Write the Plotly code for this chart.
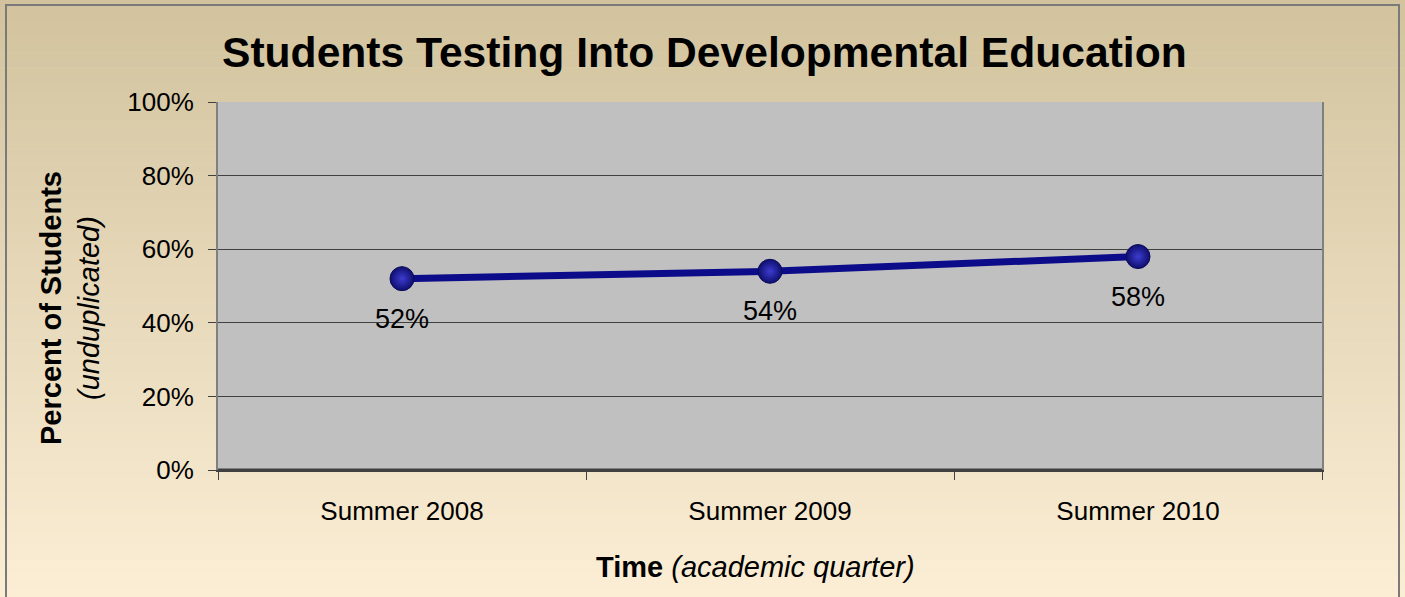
import plotly.graph_objects as go

categories = ["Summer 2008", "Summer 2009", "Summer 2010"]
values = [52, 54, 58]
labels = ["52%", "54%", "58%"]
y_ticks = [0, 20, 40, 60, 80, 100]
y_tick_text = ["0%", "20%", "40%", "60%", "80%", "100%"]

W, H = 1405, 597
L, R, T, B = 218, 1322, 102, 470
FONT = "Liberation Sans, Arial"

fig = go.Figure()
fig.add_trace(go.Scatter(
    x=categories, y=values, mode="lines+markers",
    line=dict(color="#0c0c8a", width=7),
    marker=dict(size=24, color="#0e0e6e",
                gradient=dict(type="radial", color="#3c3cd0"),
                line=dict(color="#0a0a5a", width=1)),
    hoverinfo="skip", showlegend=False,
))

# background gradient bands
shapes = []
top_c = (210, 195, 158)
bot_c = (251, 238, 213)
n = 80
for i in range(n):
    t = i / (n - 1)
    c = tuple(int(round(top_c[k] + (bot_c[k] - top_c[k]) * t)) for k in range(3))
    y0 = 1 - i / n
    y1 = 1 - (i + 1) / n
    shapes.append(dict(type="rect", xref="paper", yref="paper", x0=0, x1=1,
                       y0=y1 - 0.001, y1=y0, fillcolor="rgb(%d,%d,%d)" % c,
                       line=dict(width=0), layer="below"))
# plot area fill
shapes.append(dict(type="rect", xref="paper", yref="paper",
                   x0=L / W, x1=R / W, y0=1 - B / H, y1=1 - T / H,
                   fillcolor="#c0c0c0", line=dict(width=0), layer="below"))
# outer border
shapes.append(dict(type="rect", xref="paper", yref="paper",
                   x0=6 / W, x1=1399 / W, y0=-0.05, y1=1 - 5 / H,
                   line=dict(color="#7a7a7a", width=2), fillcolor="rgba(0,0,0,0)", layer="above"))
# bottom axis line
shapes.append(dict(type="line", xref="paper", yref="paper", x0=L / W, x1=R / W,
                   y0=1 - B / H, y1=1 - B / H, line=dict(color="#404040", width=3)))

annotations = []
for c, v, t in zip(categories, values, labels):
    annotations.append(dict(x=c, y=v, text=t, showarrow=False, yshift=-40,
                            xanchor="center", yanchor="middle",
                            font=dict(family=FONT, size=27, color="#000")))
annotations.append(dict(
    xref="paper", yref="paper", x=70 / W, y=1 - 308 / H, textangle=-90,
    xanchor="center", yanchor="middle",
    text="<b>Percent of Students</b><br><i>(unduplicated)</i>", showarrow=False,
    font=dict(family=FONT, size=29, color="#000"), align="center"))
annotations.append(dict(
    xref="paper", yref="paper", x=755 / W, y=1 - 567 / H,
    xanchor="center", yanchor="middle",
    text="<b>Time</b> <i>(academic quarter)</i>", showarrow=False,
    font=dict(family=FONT, size=29, color="#000")))
annotations.append(dict(
    xref="paper", yref="paper", x=704 / W, y=1 - 52 / H,
    xanchor="center", yanchor="middle",
    text="<b>Students Testing Into Developmental Education</b>", showarrow=False,
    font=dict(family=FONT, size=42.6, color="#000")))

fig.update_layout(
    width=W, height=H,
    margin=dict(l=0, r=0, t=0, b=0),
    paper_bgcolor="#faeed4",
    plot_bgcolor="#c0c0c0",
    shapes=shapes,
    annotations=annotations,
    font=dict(family=FONT, color="#000"),
    xaxis=dict(
        domain=[L / W, R / W], range=[-0.5, 2.5], type="category",
        tickson="boundaries", ticks="outside", ticklen=8, tickcolor="#404040",
        showgrid=False, showline=True, linecolor="#404040", linewidth=2,
        tickfont=dict(size=26), ticklabelstandoff=17, automargin=False,
        mirror=False, zeroline=False, fixedrange=True,
    ),
    yaxis=dict(
        domain=[1 - B / H, 1 - T / H], range=[0, 100],
        tickvals=y_ticks, ticktext=y_tick_text,
        ticks="outside", ticklen=8, tickcolor="#404040",
        showgrid=True, gridcolor="#404040", gridwidth=1,
        showline=True, linecolor="#808080", linewidth=2, mirror=True,
        tickfont=dict(size=26), ticklabelstandoff=9, automargin=False,
        zeroline=False, fixedrange=True,
    ),
)

fig.write_html("out.html", config={"displayModeBar": False},
               post_script="document.body.style.margin='0px';")
